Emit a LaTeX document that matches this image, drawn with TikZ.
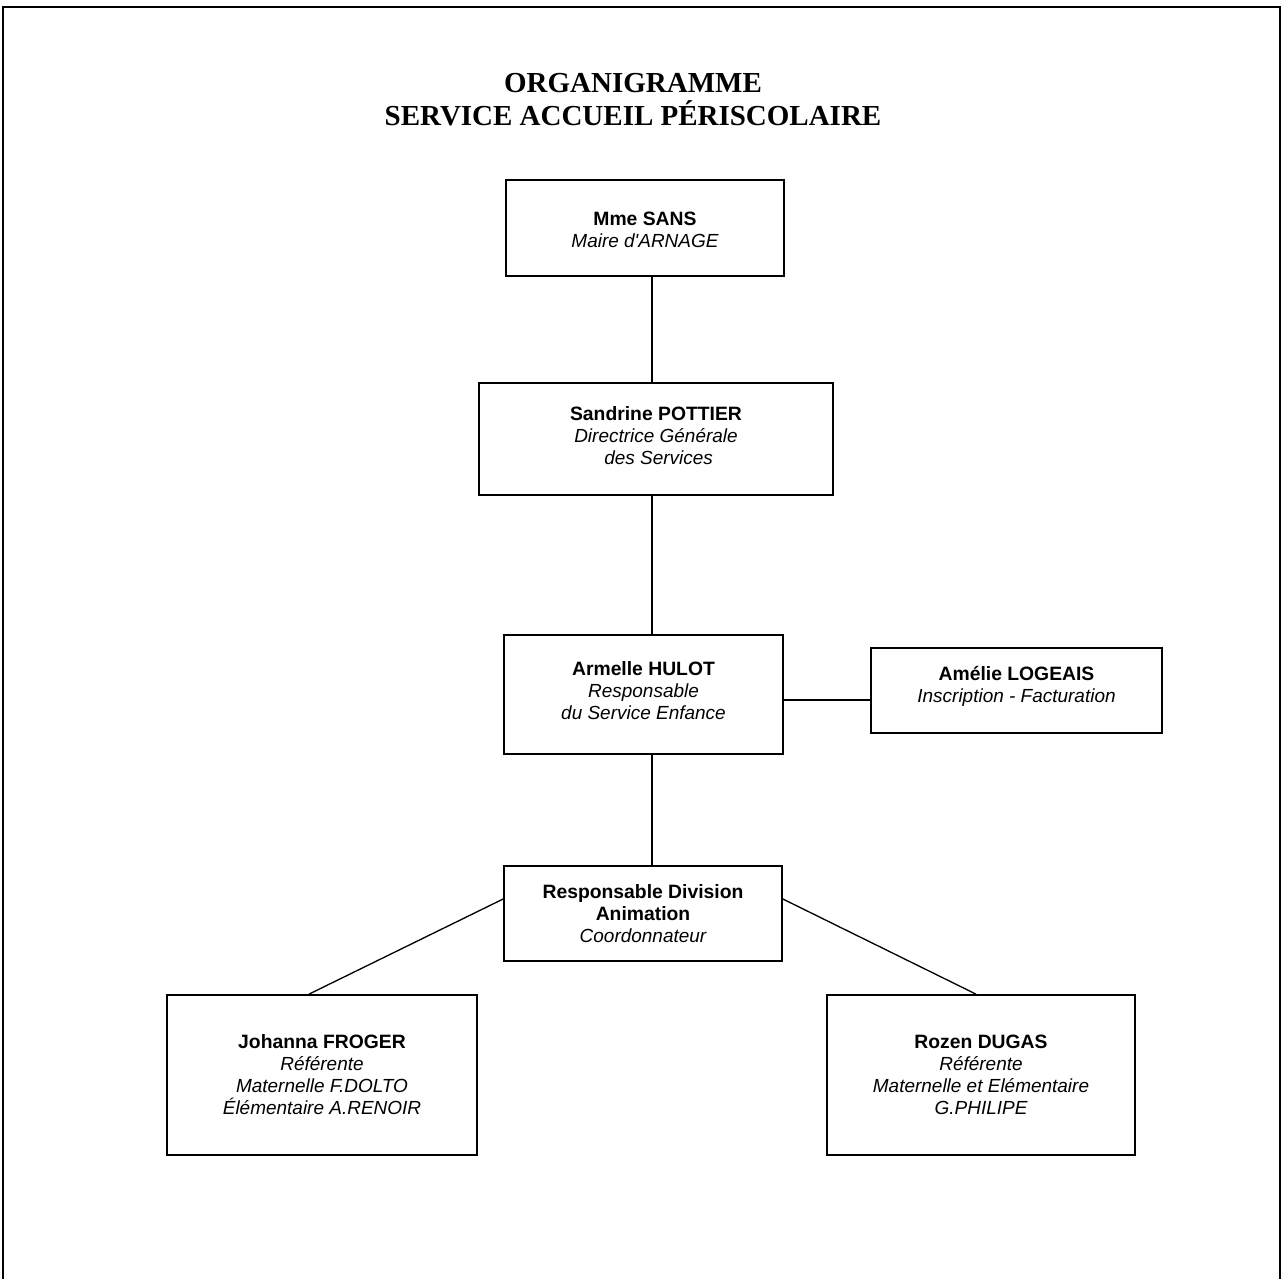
\documentclass[tikz,border=0pt]{standalone}
\usepackage{fontspec}
\setmainfont{Liberation Sans}
\newfontfamily\titlefont{Liberation Serif}
\usetikzlibrary{fit}
\begin{document}
\begin{tikzpicture}[x=0.02cm,y=-0.02cm,
  box/.style={draw, line width=1pt, inner sep=0pt},
  txt/.style={align=center, inner sep=0pt, font=\fontsize{10.8}{12.5}\selectfont},
  ttl/.style={anchor=base, inner sep=0pt, font=\fontsize{16.5}{19}\selectfont\titlefont\bfseries},
  link/.style={line width=0.75pt}]
\newcommand{\nm}[1]{{\fontsize{11}{12.5}\selectfont\bfseries #1}}
\newcommand{\rl}[1]{{\itshape #1}}
\useasboundingbox (0,0) rectangle (1283,1279);
\draw[line width=1.2pt] (3,1279) -- (3,7) -- (1280,7) -- (1280,1279);

\node[ttl] (title1) at (633,92) {ORGANIGRAMME};
\node[ttl] (title2) at (633,125) {SERVICE ACCUEIL PÉRISCOLAIRE};

\node[box, fit={(506,180) (784,276)}] (sans) {};
\node[box, fit={(479,383) (833,495)}] (pottier) {};
\node[box, fit={(504,635) (783,754)}] (hulot) {};
\node[box, fit={(871,648) (1162,733)}] (logeais) {};
\node[box, fit={(504,866) (782,961)}] (division) {};
\node[box, fit={(167,995) (477,1155)}] (froger) {};
\node[box, fit={(827,995) (1135,1155)}] (dugas) {};

\node[txt] (tsans) at (645,229.5) {\nm{Mme SANS}\\\rl{Maire d\textquotesingle ARNAGE}};
\node[txt] (tpottier) at (656,435.7) {\nm{Sandrine POTTIER}\\\rl{Directrice Générale}\\\rl{\ des Services}};
\node[txt] (thulot) at (643.5,690.7) {\nm{Armelle HULOT}\\\rl{Responsable}\\\rl{du Service Enfance}};
\node[txt] (tlogeais) at (1016.5,686) {\nm{Amélie LOGEAIS}\\\rl{Inscription - Facturation}};
\node[txt] (tdivision) at (643,914) {\nm{Responsable Division}\\\nm{Animation}\\\rl{Coordonnateur}};
\node[txt] (tfroger) at (322,1074.5) {\nm{Johanna FROGER}\\\rl{Référente}\\\rl{Maternelle F.DOLTO}\\\rl{Élémentaire A.RENOIR}};
\node[txt] (tdugas) at (981,1074.5) {\nm{Rozen DUGAS}\\\rl{Référente}\\\rl{Maternelle et Elémentaire}\\\rl{G.PHILIPE}};

\coordinate (vx) at (652,0);
\coordinate (hy) at (0,700);
\coordinate (dy) at (0,899);
\coordinate (fx) at (309,0);
\coordinate (gx) at (976,0);
\draw[link] (sans.south -| vx) -- (pottier.north -| vx);
\draw[link] (pottier.south -| vx) -- (hulot.north -| vx);
\draw[link] (hulot.south -| vx) -- (division.north -| vx);
\draw[link] (hulot.east |- hy) -- (logeais.west |- hy);
\draw[link] (division.west |- dy) -- (froger.north -| fx);
\draw[link] (division.east |- dy) -- (dugas.north -| gx);
\end{tikzpicture}
\end{document}
